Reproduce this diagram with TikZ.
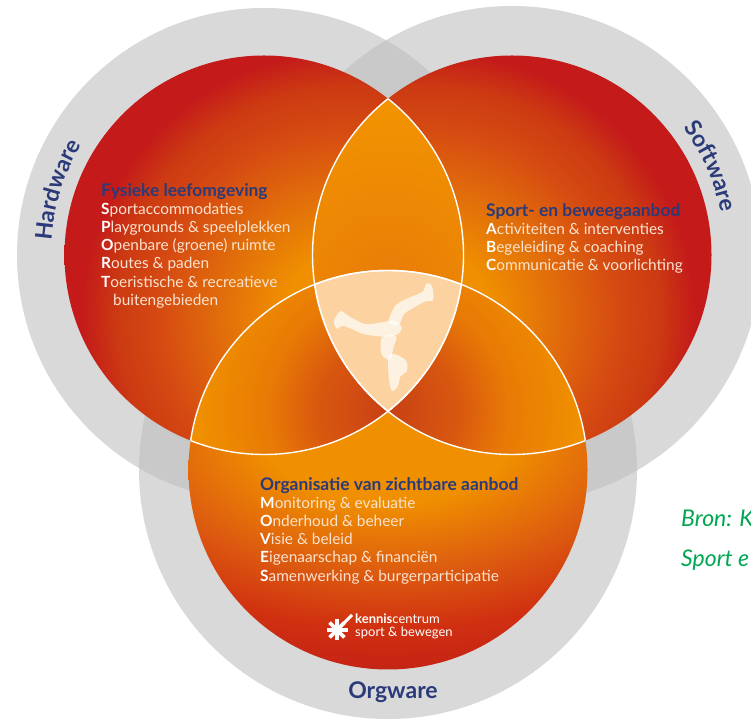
\documentclass[tikz,border=0pt]{standalone}
\usepackage{fontspec}
\setmainfont{Lato}
\usetikzlibrary{decorations.text}

\definecolor{ringgray}{HTML}{D9D9D9}
\definecolor{ringdark}{HTML}{C9C9C9}
\definecolor{navytext}{HTML}{2B3A78}
\definecolor{paletext}{HTML}{FCE3CF}
\definecolor{sourcegreen}{HTML}{00A651}
\definecolor{corefill}{HTML}{FBD2A0}
\definecolor{bright}{HTML}{F09000}
\definecolor{hot}{HTML}{C41A1A}
\definecolor{sidea}{HTML}{E2700A}
\definecolor{sideb}{HTML}{D54A12}
\definecolor{sidec}{HTML}{CC3A12}
\definecolor{lowa}{HTML}{DC5A10}
\definecolor{lowb}{HTML}{D03010}
\definecolor{lowc}{HTML}{C42414}
\definecolor{lensa}{HTML}{C84015}
\definecolor{lensb}{HTML}{D8570F}
\definecolor{lensc}{HTML}{E87A05}
\definecolor{topa}{HTML}{E87C08}
\definecolor{topb}{HTML}{F29400}

\pgfdeclareradialshading{sideglow}{\pgfpoint{0bp}{0bp}}{color(0bp)=(bright);color(5bp)=(bright);color(10bp)=(sidea);color(15.5bp)=(sideb);color(19bp)=(sidec);color(22bp)=(hot);color(50bp)=(hot)}
\pgfdeclareradialshading{lowglow}{\pgfpoint{0bp}{0bp}}{color(0bp)=(bright);color(6bp)=(bright);color(12bp)=(lowa);color(16.5bp)=(lowb);color(20bp)=(lowc);color(50bp)=(lowc)}
\pgfdeclareradialshading{lensglow}{\pgfpoint{0bp}{0bp}}{color(0bp)=(lensa);color(5.8bp)=(lensb);color(10bp)=(lensc);color(16bp)=(bright);color(50bp)=(bright)}
\pgfdeclareradialshading{topglow}{\pgfpoint{0bp}{0bp}}{color(0bp)=(topa);color(15.85bp)=(topb);color(50bp)=(topb)}

\tikzset{
  block/.style={anchor=north west, inner sep=0pt, align=left, text=paletext,
                font=\fontsize{15.4}{18.2}\selectfont},
  ringlabel/.style={font=\fontsize{23}{23}\selectfont\bfseries},
  source/.style={anchor=base west, inner sep=0pt, text=sourcegreen,
                 font=\fontsize{23}{23}\selectfont\itshape},
  figure part/.style={fill=white, opacity=.7},
  seam/.style={draw=white, line width=1.4pt},
}
\newcommand{\head}[1]{{\fontsize{17.4}{18.2}\selectfont\bfseries\color{navytext}#1}}
\newcommand{\first}[1]{{\bfseries\color{white}#1}}
\newcommand{\leftdisc}{(lc) circle [radius=199.5]}
\newcommand{\rightdisc}{(rc) circle [radius=199.5]}
\newcommand{\lowdisc}{(bc) circle [radius=199.5]}
\newcommand{\leftring}{(lc) circle [radius=247]}
\newcommand{\rightring}{(rc) circle [radius=249]}
\newcommand{\lowring}{(bc) circle [radius=249]}

\begin{document}
\begin{tikzpicture}[x=1pt, y=1pt]
    \path[use as bounding box, clip] (0,0) rectangle (751,719);
    \coordinate (lc) at (264,464);
    \coordinate (rc) at (512,464);
    \coordinate (bc) at (388,249);

    % grey rings
    \fill[ringgray] \leftring;
    \fill[ringgray] \rightring;
    \fill[ringgray] \lowring;
    \begin{scope}
        \clip \leftring;
        \fill[ringdark] \rightring;
        \fill[ringdark] \lowring;
    \end{scope}
    \begin{scope}
        \clip \rightring;
        \fill[ringdark] \lowring;
    \end{scope}

    % discs
    \begin{scope}
        \clip \leftdisc;
        \shade[shading=sideglow] (45,104) rectangle (645,704);
    \end{scope}
    \begin{scope}
        \clip \rightdisc;
        \shade[shading=sideglow] (131,104) rectangle (731,704);
    \end{scope}
    \begin{scope}
        \clip \lowdisc;
        \shade[shading=lowglow] (-132,-11) rectangle (908,589);
    \end{scope}

    % overlaps
    \begin{scope}
        \clip \leftdisc;
        \clip \rightdisc;
        \shade[shading=topglow] (88,129) rectangle (688,729);
    \end{scope}
    \begin{scope}
        \clip \leftdisc;
        \clip \lowdisc;
        \shade[shading=lensglow] (88,8) rectangle (688,608);
    \end{scope}
    \begin{scope}
        \clip \rightdisc;
        \clip \lowdisc;
        \shade[shading=lensglow] (88,8) rectangle (688,608);
    \end{scope}
    \begin{scope}
        \clip \leftdisc;
        \clip \rightdisc;
        \fill[corefill] \lowdisc;
    \end{scope}

    % white seams
    \begin{scope}
        \clip \leftdisc;
        \draw[seam] \rightdisc;
        \draw[seam] \lowdisc;
    \end{scope}
    \begin{scope}
        \clip \rightdisc;
        \draw[seam] \leftdisc;
        \draw[seam] \lowdisc;
    \end{scope}
    \begin{scope}
        \clip \lowdisc;
        \draw[seam] \leftdisc;
        \draw[seam] \rightdisc;
    \end{scope}

    % figure
    \begin{scope}[shift={(280,469)}, x=.3333pt, y=-.3333pt]
        \fill[figure part] plot[smooth cycle] coordinates {(182,183) (162,212) (170,236) (192,228) (250,252) (310,260) (352,254) (365,232) (342,212) (300,218) (255,222) (205,198)};
        \fill[figure part] plot[smooth cycle] coordinates {(326,215) (348,165) (390,142) (428,125) (440,100) (456,108) (460,150) (436,154) (396,176) (372,192) (356,225)};
        \fill[figure part] plot[smooth cycle] coordinates {(306,262) (348,258) (340,295) (330,330) (304,312)};
        \fill[figure part] plot[smooth cycle] coordinates {(326,320) (350,314) (380,335) (380,365) (362,378) (352,412) (335,422) (326,380)};
    \end{scope}

    % ring labels
    \path[decorate, decoration={text along path, text align=center,
          text={|\fontsize{23}{23}\selectfont\bfseries\color{navytext}|Hardware}}]
        (lc) ++(196.5:213) arc [start angle=196.5, end angle=128.5, radius=213];
    \path[decorate, decoration={text along path, text align=center,
          text={|\fontsize{23}{23}\selectfont\bfseries\color{navytext}|Software}}]
        (rc) ++(58:213) arc [start angle=58, end angle=-10, radius=213];
    \node[ringlabel, text=navytext, inner sep=0pt, anchor=base] (orgware) at (393,20) {Orgware};

    % texts
    \node[block] (fysiek) at (101,536) {\head{Fysieke leefomgeving}\\
        \first{S}portaccommodaties\\
        \first{P}laygrounds \& speelplekken\\
        \first{O}penbare (groene) ruimte\\
        \first{R}outes \& paden\\
        \first{T}oeristische \& recreatieve\\
        \hspace{12pt}buitengebieden};
    \node[block] (aanbod) at (486,516) {\head{Sport- en beweegaanbod}\\
        \first{A}ctiviteiten \& interventies\\
        \first{B}egeleiding \& coaching\\
        \first{C}ommunicatie \& voorlichting};
    \node[block] (organisatie) at (260,242) {\head{Organisatie van zichtbare aanbod}\\
        \first{M}onitoring \& evaluatie\\
        \first{O}nderhoud \& beheer\\
        \first{V}isie \& beleid\\
        \first{E}igenaarschap \& financiën\\
        \first{S}amenwerking \& burgerparticipatie};

    % logo
    \coordinate (star) at (337,89);
    \foreach \a in {0,45,...,315}
        \draw[white, line width=3.6pt] (star) -- ++(\a:10.5);
    \draw[white, line width=3pt] (star) -- (352,104);
    \node[anchor=base west, inner sep=0pt, text=white, align=left,
          font=\fontsize{13}{13}\selectfont] (logo) at (355,82) {\textbf{kennis}centrum\\sport \& bewegen};

    % source
    \node[source] (bron) at (681,192) {Bron: K};
    \node[source] (sport) at (681,152) {Sport e};
\end{tikzpicture}
\end{document}
